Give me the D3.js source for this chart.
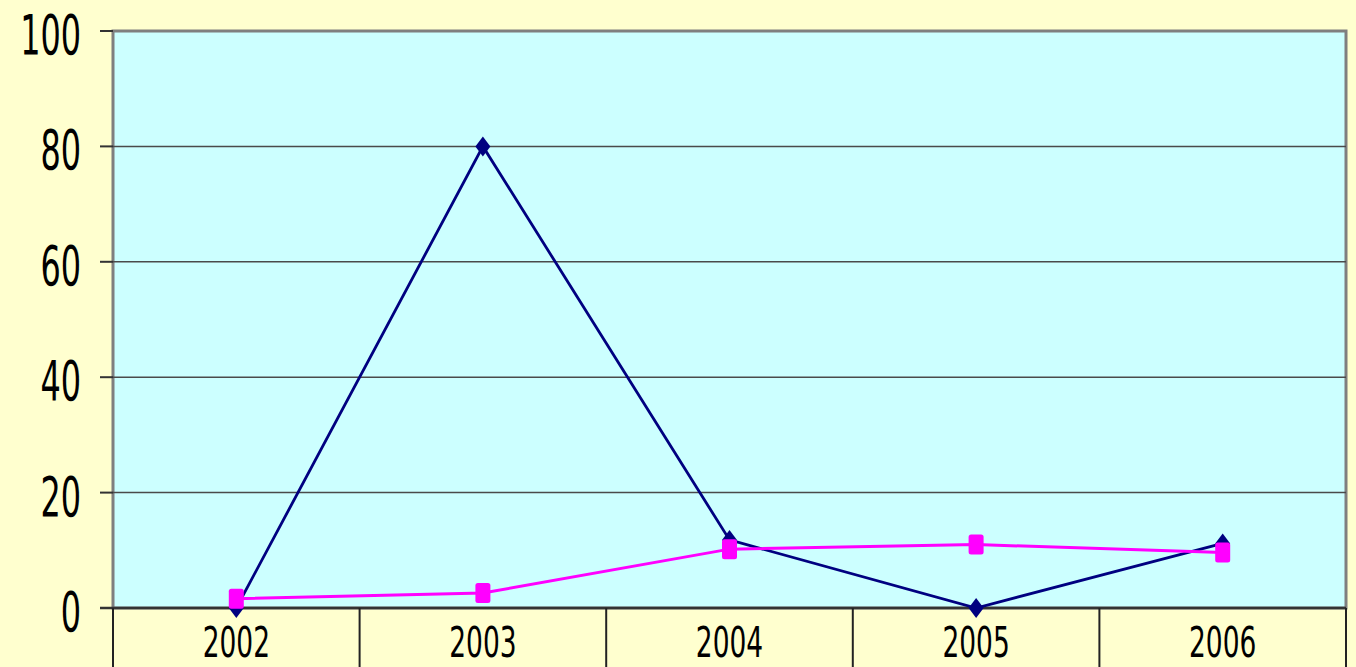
<!DOCTYPE html>
<html>
<head>
<meta charset="utf-8">
<script src="https://cdn.jsdelivr.net/npm/d3@7"></script>
<style>
  body { margin: 0; background: #ffffcc; }
  svg { display: block; }
</style>
</head>
<body>
<script>
var years = ['2002', '2003', '2004', '2005', '2006'];
var seriesA = [0, 80, 11.8, 0, 11.2];      // navy diamonds
var seriesB = [1.6, 2.6, 10.2, 11, 9.6];   // magenta squares
var yTicks = [0, 20, 40, 60, 80, 100];

var width = 1356,
    height = 667,
    plot = {left: 113, right: 1346, top: 31, bottom: 608};

var x = d3.scaleBand().domain(years).range([plot.left, plot.right]).padding(0),
    y = d3.scaleLinear().domain([0, 100]).range([plot.bottom, plot.top]);

var svg = d3.select('body').append('svg')
    .attr('width', width)
    .attr('height', height);

svg.append('rect')
    .attr('width', width).attr('height', height)
    .attr('fill', '#ffffcf');

// plot area
svg.append('rect')
    .attr('x', plot.left).attr('y', plot.top)
    .attr('width', plot.right - plot.left)
    .attr('height', plot.bottom - plot.top)
    .attr('fill', '#ccffff')
    .attr('stroke', '#7f7f7f')
    .attr('stroke-width', 3);

// gridlines
svg.append('g')
    .selectAll('line')
    .data(yTicks.filter(function (d) { return d > 0 && d < 100; }))
    .enter().append('line')
    .attr('x1', plot.left).attr('x2', plot.right)
    .attr('y1', function (d) { return y(d); })
    .attr('y2', function (d) { return y(d); })
    .attr('stroke', '#4a4a4a')
    .attr('stroke-width', 1.5);

// y ticks + labels
var yAxis = svg.append('g');
yAxis.selectAll('line')
    .data(yTicks)
    .enter().append('line')
    .attr('x1', plot.left - 13).attr('x2', plot.left)
    .attr('y1', function (d) { return y(d); })
    .attr('y2', function (d) { return y(d); })
    .attr('stroke', '#333')
    .attr('stroke-width', 2);

yAxis.selectAll('text')
    .data(yTicks)
    .enter().append('g')
    .attr('transform', function (d) { return 'translate(81,' + (y(d) + 23) + ') scale(0.58,1)'; })
    .append('text')
    .attr('text-anchor', 'end')
    .attr('font-family', 'DejaVu Sans')
    .attr('font-size', 55)
    .attr('fill', '#000')
    .text(function (d) { return d; });

// category row
var xAxis = svg.append('g');
xAxis.append('line')
    .attr('x1', plot.left - 13).attr('x2', plot.right)
    .attr('y1', plot.bottom).attr('y2', plot.bottom)
    .attr('stroke', '#333')
    .attr('stroke-width', 2.5);

xAxis.selectAll('line.sep')
    .data(years.concat(['end']))
    .enter().append('line')
    .attr('class', 'sep')
    .attr('x1', function (d, i) { return plot.left + i * x.bandwidth(); })
    .attr('x2', function (d, i) { return plot.left + i * x.bandwidth(); })
    .attr('y1', plot.bottom).attr('y2', height)
    .attr('stroke', '#222')
    .attr('stroke-width', 2);

xAxis.selectAll('g.lbl')
    .data(years)
    .enter().append('g')
    .attr('class', 'lbl')
    .attr('transform', function (d) { return 'translate(' + (x(d) + x.bandwidth() / 2) + ',657) scale(0.63,1)'; })
    .append('text')
    .attr('text-anchor', 'middle')
    .attr('font-family', 'DejaVu Sans')
    .attr('font-size', 42)
    .attr('fill', '#000')
    .text(function (d) { return d; });

var cx = function (d, i) { return x(years[i]) + x.bandwidth() / 2; };

var line = d3.line()
    .x(function (d, i) { return cx(d, i); })
    .y(function (d) { return y(d); });

svg.append('path')
    .datum(seriesA)
    .attr('d', line)
    .attr('fill', 'none')
    .attr('stroke', '#000080')
    .attr('stroke-width', 2.8);

svg.append('path')
    .datum(seriesB)
    .attr('d', line)
    .attr('fill', 'none')
    .attr('stroke', '#ff00ff')
    .attr('stroke-width', 3);

svg.append('g')
    .selectAll('path')
    .data(seriesA)
    .enter().append('path')
    .attr('d', 'M0,-10L7.5,0L0,10L-7.5,0Z')
    .attr('transform', function (d, i) { return 'translate(' + cx(d, i) + ',' + y(d) + ')'; })
    .attr('fill', '#000080');

svg.append('g')
    .selectAll('rect')
    .data(seriesB)
    .enter().append('rect')
    .attr('x', function (d, i) { return cx(d, i) - 7.5; })
    .attr('y', function (d) { return y(d) - 10; })
    .attr('width', 15).attr('height', 20)
    .attr('rx', 2.5)
    .attr('fill', '#ff00ff');
</script>
</body>
</html>
